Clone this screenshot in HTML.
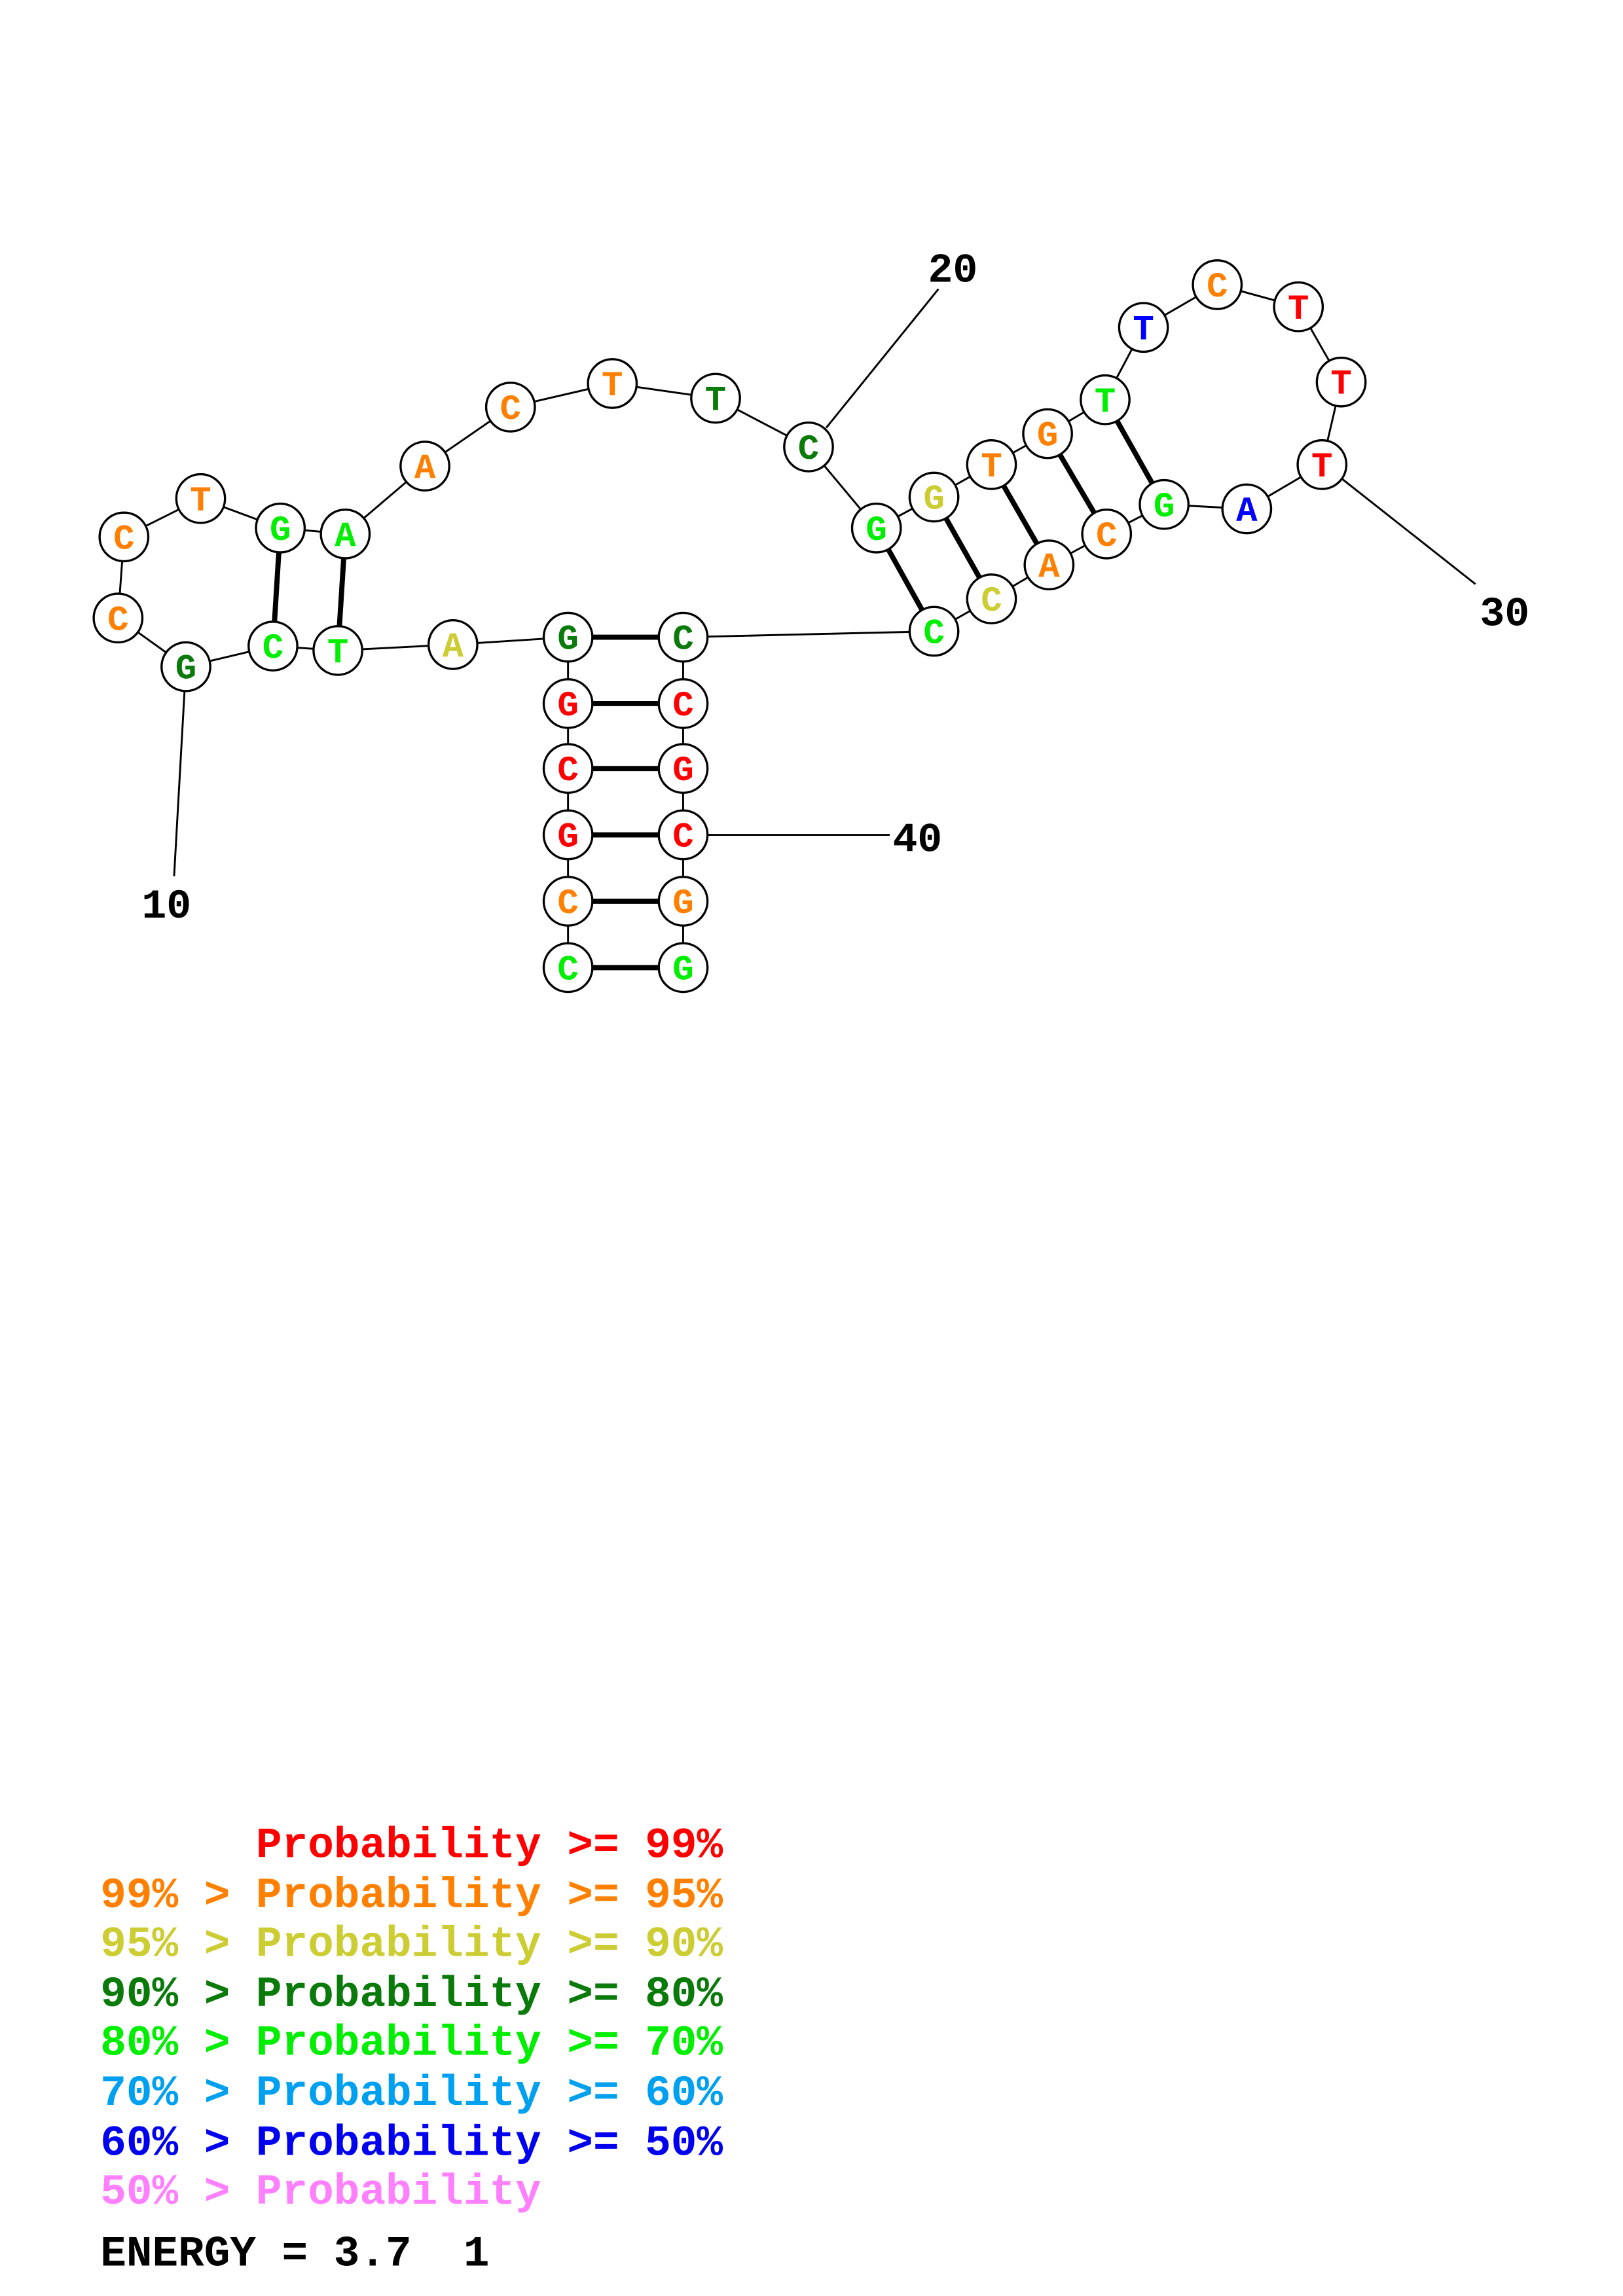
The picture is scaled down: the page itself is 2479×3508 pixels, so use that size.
<!DOCTYPE html>
<html><head><meta charset="utf-8"><style>html,body{margin:0;padding:0;background:#fff}svg{display:block}text{white-space:pre}</style></head>
<body>
<svg width="2479" height="3508" viewBox="0 0 1100 1556.6" xmlns="http://www.w3.org/2000/svg">
<rect width="1100" height="1556.6" fill="#fff"/>
<g stroke="#000" stroke-width="1.3" fill="none">
<polyline points="385,656 385,611 385,566 385,521 385,477 385,432 307,437 229,441 185,438 126,452 80,419 84,364 136,338 190,358 234,362 288,316 346,276 415,260 485,270 548,303 594,358 633,337 672,315 710,294 749,271 775,222 825,193 880,208 909,259 896,315 845,345 789,342 750,362 711,383 672,406 633,428 463,432 463,477 463,521 463,566 463,611 463,656"/>
<line x1="560" y1="290" x2="636" y2="196"/>
<line x1="910" y1="325" x2="1000" y2="396"/>
<line x1="126" y1="452" x2="118" y2="594"/>
<line x1="463" y1="566" x2="603" y2="566"/>
</g>
<g stroke="#000" stroke-width="3.5">
<line x1="385" y1="656" x2="463" y2="656"/><line x1="385" y1="611" x2="463" y2="611"/>
<line x1="385" y1="566" x2="463" y2="566"/><line x1="385" y1="521" x2="463" y2="521"/>
<line x1="385" y1="477" x2="463" y2="477"/><line x1="385" y1="432" x2="463" y2="432"/>
<line x1="229" y1="441" x2="234" y2="362"/><line x1="185" y1="438" x2="190" y2="358"/>
<line x1="594" y1="358" x2="633" y2="428"/><line x1="633" y1="337" x2="672" y2="406"/>
<line x1="672" y1="315" x2="711" y2="383"/><line x1="710" y1="294" x2="750" y2="362"/>
<line x1="749" y1="271" x2="789" y2="342"/>
</g>
<g stroke="#000" stroke-width="1.5" fill="#fff">
<circle cx="385" cy="656" r="16.5"/><circle cx="385" cy="611" r="16.5"/><circle cx="385" cy="566" r="16.5"/><circle cx="385" cy="521" r="16.5"/><circle cx="385" cy="477" r="16.5"/><circle cx="385" cy="432" r="16.5"/>
<circle cx="307" cy="437" r="16.5"/><circle cx="229" cy="441" r="16.5"/><circle cx="185" cy="438" r="16.5"/><circle cx="126" cy="452" r="16.5"/><circle cx="80" cy="419" r="16.5"/><circle cx="84" cy="364" r="16.5"/><circle cx="136" cy="338" r="16.5"/><circle cx="190" cy="358" r="16.5"/><circle cx="234" cy="362" r="16.5"/><circle cx="288" cy="316" r="16.5"/><circle cx="346" cy="276" r="16.5"/><circle cx="415" cy="260" r="16.5"/><circle cx="485" cy="270" r="16.5"/><circle cx="548" cy="303" r="16.5"/>
<circle cx="594" cy="358" r="16.5"/><circle cx="633" cy="337" r="16.5"/><circle cx="672" cy="315" r="16.5"/><circle cx="710" cy="294" r="16.5"/><circle cx="749" cy="271" r="16.5"/><circle cx="775" cy="222" r="16.5"/><circle cx="825" cy="193" r="16.5"/><circle cx="880" cy="208" r="16.5"/><circle cx="909" cy="259" r="16.5"/><circle cx="896" cy="315" r="16.5"/><circle cx="845" cy="345" r="16.5"/><circle cx="789" cy="342" r="16.5"/><circle cx="750" cy="362" r="16.5"/><circle cx="711" cy="383" r="16.5"/><circle cx="672" cy="406" r="16.5"/><circle cx="633" cy="428" r="16.5"/>
<circle cx="463" cy="432" r="16.5"/><circle cx="463" cy="477" r="16.5"/><circle cx="463" cy="521" r="16.5"/><circle cx="463" cy="566" r="16.5"/><circle cx="463" cy="611" r="16.5"/><circle cx="463" cy="656" r="16.5"/>
</g>
<g font-family="'Liberation Mono', monospace" font-weight="bold" font-size="24" text-anchor="middle">
<text x="385" y="664" fill="#00ee00">C</text><text x="385" y="619" fill="#ff8000">C</text><text x="385" y="574" fill="#ff0000">G</text><text x="385" y="529" fill="#ff0000">C</text><text x="385" y="485" fill="#ff0000">G</text><text x="385" y="440" fill="#0a7a0a">G</text>
<text x="307" y="445" fill="#cccc33">A</text><text x="229" y="449" fill="#00ee00">T</text><text x="185" y="446" fill="#00ee00">C</text><text x="126" y="460" fill="#0a7a0a">G</text><text x="80" y="427" fill="#ff8000">C</text><text x="84" y="372" fill="#ff8000">C</text><text x="136" y="346" fill="#ff8000">T</text><text x="190" y="366" fill="#00ee00">G</text><text x="234" y="370" fill="#00ee00">A</text><text x="288" y="324" fill="#ff8000">A</text><text x="346" y="284" fill="#ff8000">C</text><text x="415" y="268" fill="#ff8000">T</text><text x="485" y="278" fill="#0a7a0a">T</text><text x="548" y="311" fill="#0a7a0a">C</text>
<text x="594" y="366" fill="#00ee00">G</text><text x="633" y="345" fill="#cccc33">G</text><text x="672" y="323" fill="#ff8000">T</text><text x="710" y="302" fill="#ff8000">G</text><text x="749" y="279" fill="#00ee00">T</text><text x="775" y="230" fill="#0000ff">T</text><text x="825" y="201" fill="#ff8000">C</text><text x="880" y="216" fill="#ff0000">T</text><text x="909" y="267" fill="#ff0000">T</text><text x="896" y="323" fill="#ff0000">T</text><text x="845" y="353" fill="#0000ff">A</text><text x="789" y="350" fill="#00ee00">G</text><text x="750" y="370" fill="#ff8000">C</text><text x="711" y="391" fill="#ff8000">A</text><text x="672" y="414" fill="#cccc33">C</text><text x="633" y="436" fill="#00ee00">C</text>
<text x="463" y="440" fill="#0a7a0a">C</text><text x="463" y="485" fill="#ff0000">C</text><text x="463" y="529" fill="#ff0000">G</text><text x="463" y="574" fill="#ff0000">C</text><text x="463" y="619" fill="#ff8000">G</text><text x="463" y="664" fill="#00ee00">G</text>
</g>
<g font-family="'Liberation Mono', monospace" font-weight="bold" font-size="28" fill="#000">
<text x="629" y="191">20</text><text x="1003" y="424">30</text><text x="96" y="622">10</text><text x="605" y="577">40</text>
</g>
<g font-family="'Liberation Mono', monospace" font-weight="bold" font-size="29.3">
<text x="173.5" y="1259" fill="#ff0000">Probability &gt;= 99%</text>
<text x="68" y="1293" fill="#ff8000">99% &gt; Probability &gt;= 95%</text>
<text x="68" y="1326" fill="#cccc33">95% &gt; Probability &gt;= 90%</text>
<text x="68" y="1360" fill="#0a7a0a">90% &gt; Probability &gt;= 80%</text>
<text x="68" y="1393" fill="#00ee00">80% &gt; Probability &gt;= 70%</text>
<text x="68" y="1427" fill="#00a0f0">70% &gt; Probability &gt;= 60%</text>
<text x="68" y="1461" fill="#0000ee">60% &gt; Probability &gt;= 50%</text>
<text x="68" y="1494" fill="#ff80ff">50% &gt; Probability</text>
<text x="68" y="1536" fill="#000">ENERGY = 3.7  1</text>
</g>
</svg>
</body></html>
